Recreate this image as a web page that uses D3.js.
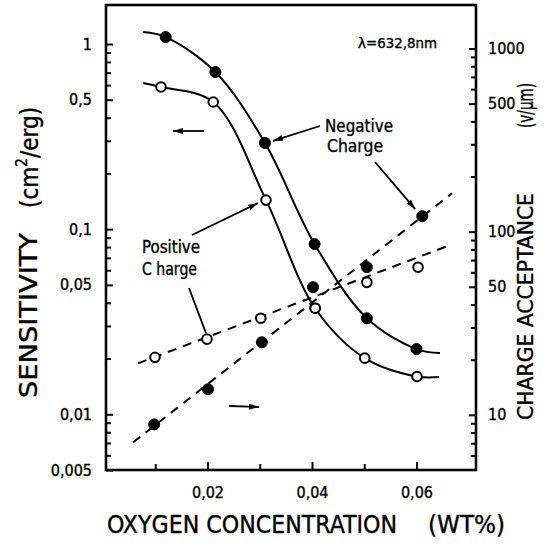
<!DOCTYPE html>
<html><head><meta charset="utf-8">
<script src="https://cdn.jsdelivr.net/npm/d3@7"></script>
<style>
body{margin:0;background:#fff}
svg{display:block}
text{font-family:"DejaVu Sans Condensed","DejaVu Sans",sans-serif;fill:#000;stroke:#000;stroke-width:0.35px}
</style>
</head><body><svg id="c" width="557" height="547"></svg>
<script>
// ---------- data ----------
// Sensitivity (left axis, cm^2/erg) vs oxygen concentration (wt%)
const negX    = [0.012, 0.0215, 0.031, 0.0405, 0.0505, 0.060];
const negSens = [1.09, 0.706, 0.292, 0.083, 0.033, 0.0225];
const posX    = [0.0111, 0.0211, 0.0312, 0.0406, 0.0501, 0.0601];
const posSens = [0.586, 0.486, 0.1435, 0.0374, 0.0201, 0.0160];
// smooth curves drawn through the points (with their short extensions)
const negCurveX = [0.0077, 0.012, 0.0215, 0.031, 0.0405, 0.0505, 0.060, 0.0645];
const negCurveS = [1.16, 1.09, 0.706, 0.292, 0.083, 0.033, 0.0225, 0.0214];
const posCurveX = [0.0077, 0.0111, 0.0211, 0.0312, 0.0406, 0.0501, 0.0601, 0.0643];
const posCurveS = [0.616, 0.586, 0.486, 0.1435, 0.0374, 0.0201, 0.0160, 0.0159];
// Charge acceptance (right axis, V/um)
const accNegX = [0.0098, 0.0201, 0.0304, 0.0402, 0.0505, 0.0611];
const accNeg  = [8.87, 13.8, 24.9, 49.8, 64.0, 121.5];
const accPosX = [0.00995, 0.0199, 0.0302, 0.0406, 0.0505, 0.0603];
const accPos  = [20.6, 25.9, 33.7, 38.2, 52.9, 64.0];
// dashed fit lines
const fitNegX = [0.00574, 0.0668];
const fitNeg  = [7.07, 162];
const fitPosX = [0.0067, 0.0664];
const fitPos  = [19.1, 84.4];
// ticks
const xMajor = [0.02, 0.04, 0.06];
const xMajorLabels = ["0,02", "0,04", "0,06"];
const xMinor = [0.01, 0.03, 0.05];
const leftMajor = [0.005, 0.01, 0.05, 0.1, 0.5, 1];
const leftMajorLabels = ["0,005", "0,01", "0,05", "0,1", "0,5", "1"];
const leftMinor = [0.006,0.007,0.008,0.009,0.02,0.03,0.04,0.06,0.07,0.08,0.09,0.2,0.3,0.4,0.6,0.7,0.8,0.9];
const rightMajor = [10, 50, 100, 500, 1000];
const rightMajorLabels = ["10", "50", "100", "500", "1000"];
const rightMinor = [6,7,8,9,20,30,40,60,70,80,90,200,300,400,600,700,800,900];

// ---------- scales ----------
const svg = d3.select("#c");
const F = {l:106, r:476, t:5, b:470};
const x  = d3.scaleLinear().domain([0, 0.0712]).range([103, 475]);
const yL = d3.scaleLog().domain([0.005, 1]).range([470, 44]);
const yR = d3.scaleLog().domain([5, 1000]).range([470, 48.5]);

// ---------- axes ----------
function styleAxis(g, fs){
  g.select(".domain").remove();
  g.selectAll(".tick line").attr("stroke","#000").attr("stroke-width",2);
  g.selectAll(".tick text").attr("font-size",fs).attr("fill","#000")
    .style("font-family",'"DejaVu Sans Condensed","DejaVu Sans",sans-serif');
}
// left
svg.append("g").attr("transform",`translate(${F.l},0)`)
  .call(d3.axisLeft(yL).tickValues(leftMajor).tickSizeInner(-7).tickSizeOuter(0).tickPadding(14)
        .tickFormat((d,i)=>leftMajorLabels[i]))
  .call(g=>styleAxis(g,16));
svg.append("g").attr("transform",`translate(${F.l},0)`)
  .call(d3.axisLeft(yL).tickValues(leftMinor).tickSizeInner(-5).tickSizeOuter(0).tickFormat(""))
  .call(g=>styleAxis(g,16));
// right
svg.append("g").attr("transform",`translate(${F.r},0)`)
  .call(d3.axisRight(yR).tickValues(rightMajor).tickSizeInner(-7).tickSizeOuter(0).tickPadding(12)
        .tickFormat((d,i)=>rightMajorLabels[i]))
  .call(g=>styleAxis(g,16));
svg.append("g").attr("transform",`translate(${F.r},0)`)
  .call(d3.axisRight(yR).tickValues(rightMinor).tickSizeInner(-5).tickSizeOuter(0).tickFormat(""))
  .call(g=>styleAxis(g,16));
// bottom
svg.append("g").attr("transform",`translate(0,${F.b})`)
  .call(d3.axisBottom(x).tickValues(xMajor).tickSizeInner(-8).tickSizeOuter(0).tickPadding(17)
        .tickFormat((d,i)=>xMajorLabels[i]))
  .call(g=>styleAxis(g,16));
svg.append("g").attr("transform",`translate(0,${F.b})`)
  .call(d3.axisBottom(x).tickValues(xMinor).tickSizeInner(-6).tickSizeOuter(0).tickFormat(""))
  .call(g=>styleAxis(g,16));

// frame
svg.append("rect").attr("x",F.l).attr("y",F.t).attr("width",F.r-F.l).attr("height",F.b-F.t)
  .attr("fill","none").attr("stroke","#000").attr("stroke-width",2.6);

// ---------- curves ----------
const lineL = d3.line().x(d=>x(d[0])).y(d=>yL(d[1])).curve(d3.curveCatmullRom.alpha(0.5));
const lineR = d3.line().x(d=>x(d[0])).y(d=>yR(d[1]));
svg.append("path").datum(negCurveX.map((v,i)=>[v,negCurveS[i]])).attr("d",lineL)
  .attr("fill","none").attr("stroke","#000").attr("stroke-width",2);
svg.append("path").datum(posCurveX.map((v,i)=>[v,posCurveS[i]])).attr("d",lineL)
  .attr("fill","none").attr("stroke","#000").attr("stroke-width",2);
svg.append("path").datum(fitNegX.map((v,i)=>[v,fitNeg[i]])).attr("d",lineR)
  .attr("fill","none").attr("stroke","#000").attr("stroke-width",2).attr("stroke-dasharray","9,7");
svg.append("path").datum(fitPosX.map((v,i)=>[v,fitPos[i]])).attr("d",lineR)
  .attr("fill","none").attr("stroke","#000").attr("stroke-width",2).attr("stroke-dasharray","9,7");

// ---------- points ----------
function pts(xs, ys, sc, filled){
  svg.append("g").selectAll("circle").data(xs.map((v,i)=>[v,ys[i]])).join("circle")
    .attr("cx",d=>x(d[0])).attr("cy",d=>sc(d[1]))
    .attr("r", filled?5.5:4.8)
    .attr("fill", filled?"#000":"#fff").attr("stroke","#000").attr("stroke-width", filled?1:2);
}
pts(accPosX, accPos, yR, false);
pts(accNegX, accNeg, yR, true);
pts(posX, posSens, yL, false);
pts(negX, negSens, yL, true);

// ---------- annotations ----------
const defs = svg.append("defs");
defs.append("marker").attr("id","ah").attr("viewBox","0 0 10 6").attr("refX",10).attr("refY",3)
  .attr("markerWidth",10).attr("markerHeight",6).attr("markerUnits","userSpaceOnUse").attr("orient","auto")
  .append("path").attr("d","M0,0 L10,3 L0,6 Z").attr("fill","#000");
function arrow(x1,y1,x2,y2,head=true){
  const l = svg.append("line").attr("x1",x1).attr("y1",y1).attr("x2",x2).attr("y2",y2)
    .attr("stroke","#000").attr("stroke-width",1.8);
  if(head) l.attr("marker-end","url(#ah)");
}
// arrows pointing to the data (tips placed relative to data points)
arrow(320,126, x(negX[2])+8, yL(negSens[2])-2);
arrow(375,162, x(accNegX[5])-7, yR(accNeg[5])-7);
arrow(192,235, x(posX[2])-8, yL(posSens[2])+3);
arrow(189,288, x(accPosX[1])-1, yR(accPos[1])-6, false);
// axis indicator arrows
arrow(204,131, 173,131);
arrow(229,406, 259,407);

function txt(s, xx, yy, fs, len){
  const t = svg.append("text").attr("x",xx).attr("y",yy).attr("font-size",fs).text(s);
  if(len) t.attr("textLength",len).attr("lengthAdjust","spacingAndGlyphs");
  return t;
}
txt("λ=632,8nm", 358, 48, 14, 79);
txt("Negative", 325, 132, 18, 68);
txt("Charge", 327, 152, 18, 56);
txt("Positive", 142, 253, 17, 58);
txt("C harge", 142, 275, 17, 55);

// axis titles
txt("OXYGEN CONCENTRATION", 107, 533, 24, 290);
txt("(WT%)", 428, 533, 24, 77);

const lt = svg.append("g").attr("transform","translate(37,398) rotate(-90)");
lt.append("text").attr("font-size",25).attr("textLength",165).attr("lengthAdjust","spacingAndGlyphs").text("SENSITIVITY");
const lt2 = svg.append("g").attr("transform","translate(38,208) rotate(-90)");
const t2 = lt2.append("text").attr("font-size",24);
t2.append("tspan").text("(cm");
t2.append("tspan").attr("font-size",15).attr("dy",-11).text("2");
t2.append("tspan").attr("dy",11).text("/erg)");

const rt = svg.append("g").attr("transform","translate(533,420) rotate(-90)");
rt.append("text").attr("font-size",21).attr("textLength",227).attr("lengthAdjust","spacingAndGlyphs").text("CHARGE ACCEPTANCE");
const rt2 = svg.append("g").attr("transform","translate(533,128) rotate(-90)");
rt2.append("text").attr("font-size",21).attr("textLength",45).attr("lengthAdjust","spacingAndGlyphs").text("(v/μm)");
</script>
</body></html>
